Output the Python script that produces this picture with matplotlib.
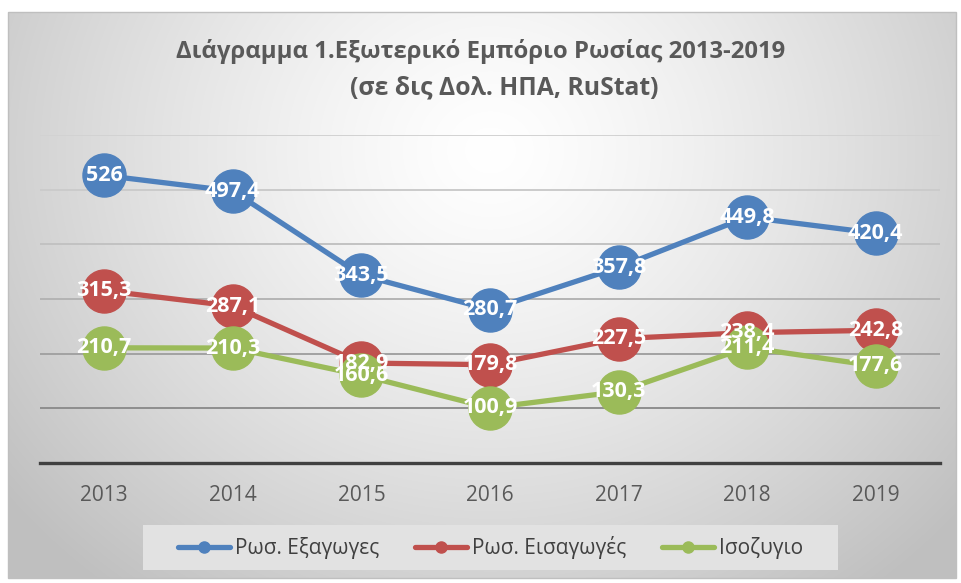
import numpy as np
import matplotlib
matplotlib.use("Agg")
import matplotlib.pyplot as plt
from matplotlib.patches import Rectangle
from matplotlib.lines import Line2D

years = ["2013", "2014", "2015", "2016", "2017", "2018", "2019"]
exports = [526, 497.4, 343.5, 280.7, 357.8, 449.8, 420.4]
imports = [315.3, 287.1, 182.9, 179.8, 227.5, 238.4, 242.8]
balance = [210.7, 210.3, 160.6, 100.9, 130.3, 211.4, 177.6]
series_names = ["Ρωσ. Εξαγωγες", "Ρωσ. Εισαγωγές", "Ισοζυγιο"]
colors = ["#4F81BD", "#C0504D", "#9BBB59"]
title1 = "Διάγραμμα 1.Εξωτερικό Εμπόριο Ρωσίας 2013-2019"
title2 = "(σε δις Δολ. ΗΠΑ, RuStat)"

W, H = 961, 583
fig = plt.figure(figsize=(W / 100, H / 100), dpi=100)
fig.patch.set_facecolor("white")

# background gradient for chart area
bg = fig.add_axes([0, 0, 1, 1], zorder=0)
bg.set_xlim(0, W)
bg.set_ylim(H, 0)
bg.axis("off")
yy, xx = np.mgrid[0:H, 0:W]
cx, cy = 490, 150
d = np.sqrt(((xx - cx) / 620.0) ** 2 + ((yy - cy) / 560.0) ** 2)
d = np.clip(d, 0, 1)
val = 1.0 - 0.25 * d ** 1.3
img = np.dstack([val, val, val])
x0, y0, x1, y1 = 8, 12, 956, 578
bg.imshow(img[y0:y1, x0:x1], extent=(x0, x1, y1, y0), aspect="auto", interpolation="bilinear")
bg.add_patch(Rectangle((x0, y0), x1 - x0, y1 - y0, fill=False, edgecolor="#bfbfbf", lw=1))
# legend background box
bg.add_patch(Rectangle((143, 525), 838 - 143, 45, facecolor="#e2e2e2", edgecolor="none"))

# main axes
left, right = 40, 940
top, bottom = 135, 463
ax = fig.add_axes([left / W, 1 - bottom / H, (right - left) / W, (bottom - top) / H], zorder=2)
ax.set_facecolor("none")
x = np.arange(len(years))
ax.set_xlim(-0.5, len(years) - 0.5)
ax.set_ylim(0, 600)
yt = np.arange(100, 601, 100)
ax.set_yticks(yt)
ax.set_yticklabels([])
ax.tick_params(axis="y", length=0)
grid_cols = ["#8e8e8e", "#a2a2a2", "#b4b4b4", "#c2c2c2", "#cbcbcb", "#d2d2d2"]
for v, c in zip(yt, grid_cols):
    ax.axhline(v, color=c, lw=1.4, zorder=1)
for s in ["top", "left", "right"]:
    ax.spines[s].set_visible(False)
ax.spines["bottom"].set_color("#404040")
ax.spines["bottom"].set_linewidth(2.4)
ax.set_xticks(x)
ax.set_xticklabels(years, fontsize=15, color="#595959", family="Open Sans")
ax.tick_params(axis="x", length=0, pad=16)

for vals, col, name in zip([exports, imports, balance], colors, series_names):
    ax.plot(x, vals, color=col, lw=3.8, marker="o", markersize=31, zorder=3,
            label=name, solid_capstyle="round")
    for xi, v in zip(x, vals):
        lab = ("%g" % v).replace(".", ",")
        ax.text(xi, v, lab, ha="center", va="center", color="white", fontsize=15.5,
                fontweight="bold", family="Open Sans", zorder=5)

# legend
handles = [Line2D([0], [0], color=c, lw=3.8, marker="o", markersize=8, solid_capstyle="round")
           for c in colors]
leg = fig.legend(handles, series_names, loc="center", ncol=3,
                 bbox_to_anchor=((143 + 838) / 2 / W, 1 - 547.5 / H),
                 prop={"family": "Open Sans", "size": 15}, frameon=False,
                 handlelength=2.5, handletextpad=0.2, columnspacing=1.75,
                 borderpad=0.45, borderaxespad=0)
for t in leg.get_texts():
    t.set_color("#404040")
leg.set_zorder(3)

fig.text(481 / W, 1 - 51 / H, title1, ha="center", va="center", fontsize=17.2,
         fontweight="bold", color="#595959", family="Open Sans", zorder=4)
fig.text(504 / W, 1 - 88 / H, title2, ha="center", va="center", fontsize=17.8,
         fontweight="bold", color="#595959", family="Open Sans", zorder=4)

fig.savefig("out.png", dpi=100, facecolor="white")
